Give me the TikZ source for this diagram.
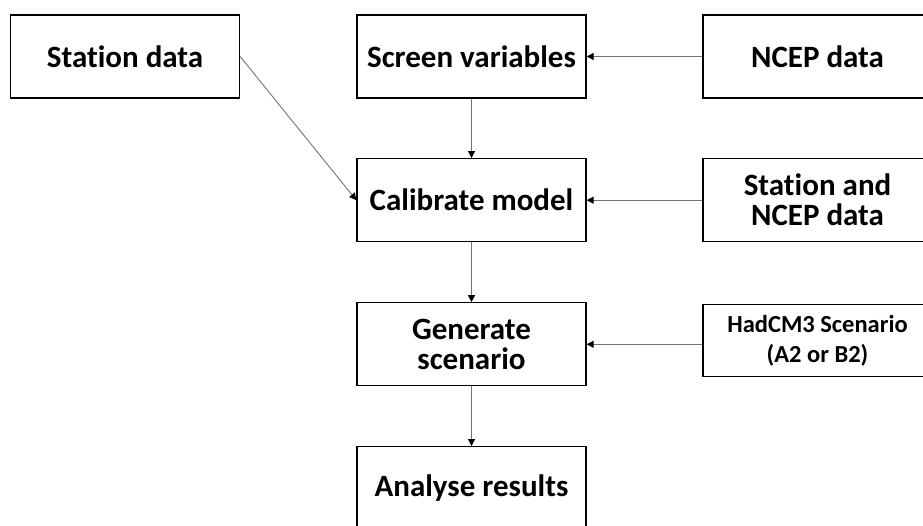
\documentclass[tikz,border=0pt]{standalone}
\usepackage{fontspec}
\setmainfont[Ligatures=NoCommon]{Carlito}
\usetikzlibrary{arrows.meta,positioning}

\begin{document}
\begin{tikzpicture}[x=1pt,y=-1pt,
    box/.style={draw=black,line width=1.3pt,fill=white,minimum width=229pt,minimum height=83pt,
        align=center,inner sep=2pt,font=\bfseries\fontsize{31}{30}\selectfont},
    arr/.style={draw=black!55,line width=0.9pt,-{Triangle[length=7pt,width=7pt,black]}}]
    \useasboundingbox (0,0) rectangle (923,525);

    \node[box] (station) at (125,56.5) {Station data};
    \node[box] (screen) at (471.5,56.5) {Screen variables};
    \node[box] (ncep) at (817.5,56.5) {NCEP data};

    \node[box] (calib) at (471.5,200.2) {Calibrate model};
    \node[box] (stncep) at (817.5,200.2) {Station and\\NCEP data};

    \node[box] (gen) at (471.5,344.3) {Generate\\scenario};
    \node[box,minimum height=71.6pt,font=\bfseries\fontsize{24.5}{30}\selectfont] (hadcm) at (817.5,340.5) {HadCM3 Scenario\\(A2 or B2)};

    \node[box] (analyse) at (471.5,488.2) {Analyse results};

    \foreach \from/\to in {screen.south/calib.north,calib.south/gen.north,gen.south/analyse.north,ncep.west/screen.east,stncep.west/calib.east,station.east/calib.west}
        \draw[arr] (\from)--(\to);
    \draw[arr] (hadcm.west |- gen.east)--(gen.east);
\end{tikzpicture}
\end{document}
